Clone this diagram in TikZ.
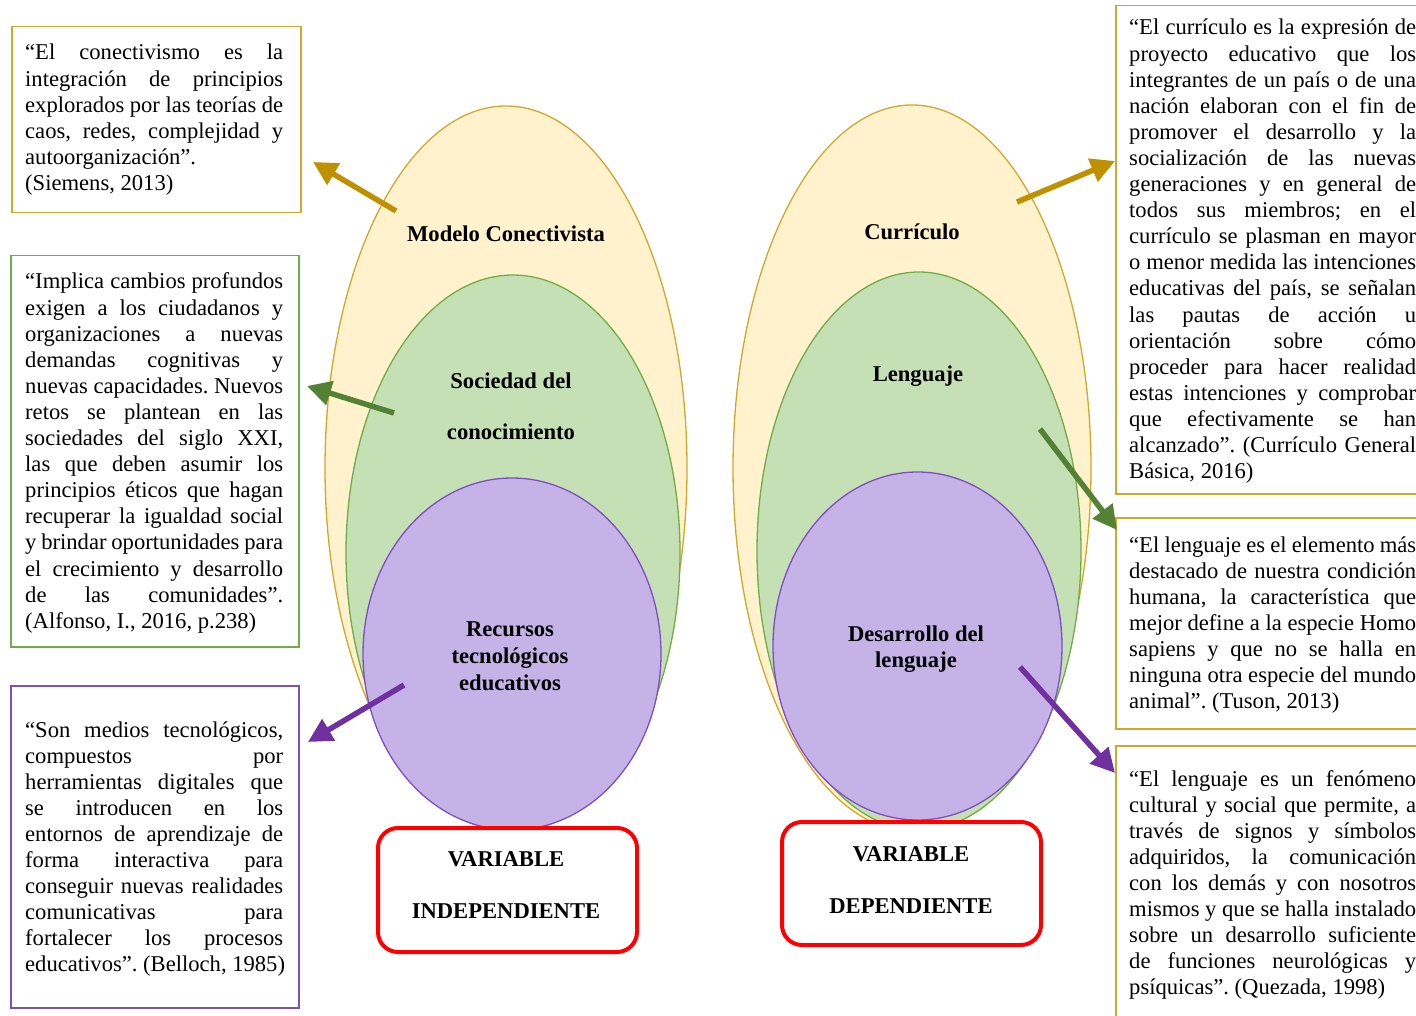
\documentclass[tikz,border=0pt]{standalone}
\usepackage{fontspec}
\setmainfont{Liberation Serif}
\usetikzlibrary{arrows.meta}
\frenchspacing
\definecolor{goldc}{HTML}{BF9000}
\definecolor{goldb}{HTML}{D4A72C}
\definecolor{yelf}{HTML}{FFF2CC}
\definecolor{grnf}{HTML}{C5E0B4}
\definecolor{grnb}{HTML}{70AD47}
\definecolor{grna}{HTML}{548235}
\definecolor{purf}{HTML}{C5B3E8}
\definecolor{purb}{HTML}{7F4FC0}
\definecolor{pura}{HTML}{7030A0}
\newdimen\bw
\newcommand\jl[1]{\hbox to \bw{\frenchspacing\spaceskip=0.25em plus 1fil minus 0.12em\relax #1}}
\newcommand\lastl[1]{\hbox{\frenchspacing #1}}
\tikzset{
  txt/.style={anchor=base west, inner sep=0pt, font=\fontsize{22.6}{26.1}\selectfont},
  qbox/.style={draw, line width=1.5pt, anchor=north west, inner sep=0pt},
  ell/.style={line width=1.3pt},
  lbl/.style={font=\fontsize{22.6}{27}\selectfont\bfseries, align=center, inner sep=0pt},
  varbox/.style={draw=red, line width=4pt, rounded corners=20pt, fill=white, inner sep=0pt},
  arr/.style={line width=5.5pt, -{Triangle[length=24pt,width=24pt]}},
}
\begin{document}
\begin{tikzpicture}[x=1pt,y=-1pt]
\clip (0,0) rectangle (1416,1016);
\fill[white] (0,0) rectangle (1416,1016);

% left ellipses
\draw[ell, fill=yelf, draw=goldb] (506,468) ellipse [x radius=181, y radius=362];
\draw[ell, fill=grnf, draw=grnb] (513,553) ellipse [x radius=167, y radius=278];
\draw[ell, fill=purf, draw=purb] (512,654) ellipse [x radius=149, y radius=176];
% right ellipses
\draw[ell, fill=yelf, draw=goldb] (912,468) ellipse [x radius=179, y radius=363];
\draw[ell, fill=grnf, draw=grnb] (919,551) ellipse [x radius=162, y radius=279];
\draw[ell, fill=purf, draw=purb] (917.5,646) ellipse [x radius=144.5, y radius=174];

% ellipse labels
\node[lbl] (mc) at (506,234) {Modelo Conectivista};
\node[lbl, font=\fontsize{22.6}{51}\selectfont\bfseries] (sc) at (511,406) {Sociedad del\\conocimiento};
\node[lbl] (rte) at (510,656) {Recursos\\tecnológicos\\educativos};
\node[lbl] (cur) at (912,232) {Currículo};
\node[lbl] (len) at (918,376) {Lenguaje};
\node[lbl, font=\fontsize{22.6}{26}\selectfont\bfseries] (dl) at (916,649) {Desarrollo del\\lenguaje};

% variable boxes
\node[varbox, minimum width=259pt, minimum height=124pt] (vi) at (507.5,890) {};
\node[lbl, font=\fontsize{22.6}{52}\selectfont\bfseries] (vit) at (506,885) {VARIABLE\\INDEPENDIENTE};
\node[varbox, minimum width=259pt, minimum height=123pt] (vd) at (911.5,883.5) {};
\node[lbl, font=\fontsize{22.6}{52}\selectfont\bfseries] (vdt) at (911,880) {VARIABLE\\DEPENDIENTE};

% quote boxes left
\node[qbox, draw=goldb, minimum width=289pt, minimum height=186pt] (b1) at (11,26) {};
\node[txt] (t1) at (25,60) {\bw=258pt\vtop{\hsize=258pt
\jl{“El conectivismo es la}
\jl{integración de principios}
\jl{explorados por las teorías de}
\jl{caos, redes, complejidad y}
\lastl{autoorganización”.}
\lastl{(Siemens, 2013)}}};

\node[qbox, draw=grnb, minimum width=288pt, minimum height=391pt] (b2) at (10,255) {};
\node[txt] (t2) at (25,289) {\bw=258pt\vtop{\hsize=258pt
\jl{“Implica cambios profundos}
\jl{exigen a los ciudadanos y}
\jl{organizaciones a nuevas}
\jl{demandas cognitivas y}
\jl{nuevas capacidades. Nuevos}
\jl{retos se plantean en las}
\jl{sociedades del siglo XXI,}
\jl{las que deben asumir los}
\jl{principios éticos que hagan}
\jl{recuperar la igualdad social}
\jl{y brindar oportunidades para}
\jl{el crecimiento y desarrollo}
\jl{de las comunidades”.}
\lastl{(Alfonso, I., 2016, p.238)}}};

\node[qbox, draw=purb, minimum width=288pt, minimum height=322pt] (b3) at (10,685) {};
\node[txt] (t3) at (25,737) {\bw=258pt\vtop{\hsize=258pt
\jl{“Son medios tecnológicos,}
\jl{compuestos por}
\jl{herramientas digitales que}
\jl{se introducen en los}
\jl{entornos de aprendizaje de}
\jl{forma interactiva para}
\jl{conseguir nuevas realidades}
\jl{comunicativas para}
\jl{fortalecer los procesos}
\lastl{educativos”. (Belloch, 1985)}}};

% quote boxes right
\node[qbox, draw=goldb, minimum width=320pt, minimum height=488pt] (b4) at (1115,5) {};
\node[txt] (t4) at (1129,35) {\bw=287pt\vtop{\hsize=287pt
\jl{“El currículo es la expresión de}
\jl{proyecto educativo que los}
\jl{integrantes de un país o de una}
\jl{nación elaboran con el fin de}
\jl{promover el desarrollo y la}
\jl{socialización de las nuevas}
\jl{generaciones y en general de}
\jl{todos sus miembros; en el}
\jl{currículo se plasman en mayor}
\jl{o menor medida las intenciones}
\jl{educativas del país, se señalan}
\jl{las pautas de acción u}
\jl{orientación sobre cómo}
\jl{proceder para hacer realidad}
\jl{estas intenciones y comprobar}
\jl{que efectivamente se han}
\jl{alcanzado”. (Currículo General}
\lastl{Básica, 2016)}}};

\node[qbox, draw=goldb, minimum width=320pt, minimum height=211pt] (b5) at (1115,517) {};
\node[txt] (t5) at (1129,552) {\bw=287pt\vtop{\hsize=287pt
\jl{“El lenguaje es el elemento más}
\jl{destacado de nuestra condición}
\jl{humana, la característica que}
\jl{mejor define a la especie Homo}
\jl{sapiens y que no se halla en}
\jl{ninguna otra especie del mundo}
\lastl{animal”. (Tuson, 2013)}}};

\node[qbox, draw=goldb, minimum width=320pt, minimum height=300pt] (b6) at (1115,745) {};
\node[txt] (t6) at (1129,786) {\bw=287pt\vtop{\hsize=287pt
\jl{“El lenguaje es un fenómeno}
\jl{cultural y social que permite, a}
\jl{través de signos y símbolos}
\jl{adquiridos, la comunicación}
\jl{con los demás y con nosotros}
\jl{mismos y que se halla instalado}
\jl{sobre un desarrollo suficiente}
\jl{de funciones neurológicas y}
\lastl{psíquicas”. (Quezada, 1998)}}};

% arrow coordinates
\coordinate (a1s) at (396,211); \coordinate (a1e) at (313,162);
\coordinate (a2s) at (394,413); \coordinate (a2e) at (307,386);
\coordinate (a3s) at (404,685); \coordinate (a3e) at (308,742);
\coordinate (a4s) at (1017,202); \coordinate (a4e) at (1115,161);
\coordinate (a5s) at (1040,429); \coordinate (a5e) at (1117,530);
\coordinate (a6s) at (1020,667); \coordinate (a6e) at (1115,773);

\draw[arr, draw=goldc, fill=goldc] (a1s) -- (a1e);
\draw[arr, draw=grna, fill=grna] (a2s) -- (a2e);
\draw[arr, draw=pura, fill=pura] (a3s) -- (a3e);
\draw[arr, draw=goldc, fill=goldc] (a4s) -- (a4e);
\draw[arr, draw=grna, fill=grna] (a5s) -- (a5e);
\draw[arr, draw=pura, fill=pura] (a6s) -- (a6e);
\end{tikzpicture}
\end{document}
